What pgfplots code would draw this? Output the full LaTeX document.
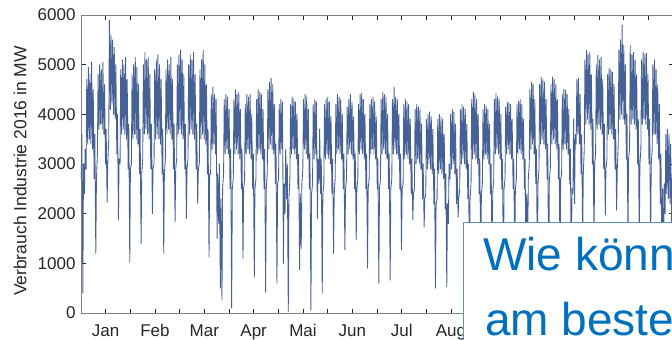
\documentclass[border=0pt]{standalone}
\usepackage{pgfplots}
\pgfplotsset{compat=1.18}
\usepackage{fontspec}
\setmainfont{Liberation Sans}
\definecolor{series}{RGB}{70,96,152}
\definecolor{axgray}{RGB}{128,128,128}
\definecolor{txt}{RGB}{38,38,38}
\definecolor{boxblue}{RGB}{91,143,208}
\definecolor{textblue}{RGB}{0,112,192}
\begin{document}
\begin{tikzpicture}[x=1pt,y=1pt]
\begin{axis}[
  at={(81pt,27pt)}, anchor=south west,
  scale only axis, width=592pt, height=298pt,
  xmin=0, xmax=366, ymin=0, ymax=6000,
  axis line style={axgray, line width=0.8pt},
  tick style={txt, line width=0.6pt},
  major tick length=4.5pt,
  tick align=inside, tick pos=both,
  xtick={15.25,30.5,...,351},
  xticklabels={Jan,{},Feb,{},Mar,{},Apr,{},Mai,{},Jun,{},Jul,{},Aug,{},{},{},{},{},{},{},{}},
  ytick={0,1000,...,6000},
  /pgf/number format/1000 sep={},
  /pgf/number format/assume math mode=true,
  ticklabel style={font=\fontsize{17}{20}\selectfont, text=txt},
  xticklabel style={yshift=-8pt},
  yticklabel style={xshift=-2pt},
  ylabel={Verbrauch Industrie 2016 in MW},
  ylabel style={font=\fontsize{17.5}{20}\selectfont, text=txt, at={(axis description cs:-0.103,0.4765)}, anchor=center},
]
\addplot[series, line width=0.85pt, line join=round] coordinates {
(0.15,2700)(0.55,3600)(1.15,400)(1.55,3000)(2.15,2400)(2.55,3300)
(3.15,2900)(3.55,4700)(4.15,3400)(4.55,4950)(5.15,3500)(5.55,4800)(6.15,3400)(6.55,5050)(7.15,3300)(7.55,4500)(8.15,2700)(8.55,3600)(9.15,1200)(9.55,2700)
(10.15,3200)(10.55,4800)(11.15,3700)(11.55,5000)(12.15,3800)(12.55,4900)(13.15,3700)(13.55,5050)(14.15,3600)(14.55,4600)(15.15,3000)(15.55,3700)(16.15,2230)(16.55,3000)
(17.15,3500)(17.55,5900)(18.15,4100)(18.55,5600)(19.15,4200)(19.55,5500)(20.15,4000)(20.55,5350)(21.15,3900)(21.55,5000)(22.15,3200)(22.55,4000)(23.15,1870)(23.55,3100)
(24.15,3000)(24.55,4900)(25.15,3600)(25.55,5100)(26.15,3700)(26.55,5000)(27.15,3600)(27.55,5150)(28.15,3500)(28.55,4700)(29.15,2900)(29.55,3800)(30.15,1030)(30.55,2900)
(31.15,3000)(31.55,4800)(32.15,3500)(32.55,5000)(33.15,3600)(33.55,5150)(34.15,3500)(34.55,4950)(35.15,3400)(35.55,4600)(36.15,2800)(36.55,3700)(37.15,1400)(37.55,2800)
(38.15,3100)(38.55,5000)(39.15,3600)(39.55,5250)(40.15,3700)(40.55,5100)(41.15,3600)(41.55,5150)(42.15,3500)(42.55,4800)(43.15,2900)(43.55,3800)(44.15,2000)(44.55,2900)
(45.15,3000)(45.55,4900)(46.15,3500)(46.55,5100)(47.15,3600)(47.55,5200)(48.15,3500)(48.55,5000)(49.15,3400)(49.55,4700)(50.15,2800)(50.55,3700)(51.15,1200)(51.55,2800)
(52.15,3100)(52.55,4900)(53.15,3600)(53.55,5100)(54.15,3700)(54.55,5000)(55.15,3600)(55.55,5150)(56.15,3500)(56.55,4700)(57.15,2900)(57.55,3800)(58.15,1830)(58.55,2900)
(59.15,3100)(59.55,5000)(60.15,3600)(60.55,5200)(61.15,3700)(61.55,5300)(62.15,3600)(62.55,5100)(63.15,3500)(63.55,4800)(64.15,2900)(64.55,3800)(65.15,1900)(65.55,2900)
(66.15,3100)(66.55,5000)(67.15,3600)(67.55,5200)(68.15,3700)(68.55,5100)(69.15,3600)(69.55,5250)(70.15,3500)(70.55,4800)(71.15,2900)(71.55,3800)(72.15,2200)(72.55,2900)
(73.15,3000)(73.55,4900)(74.15,3500)(74.55,5100)(75.15,3600)(75.55,5290)(76.15,3500)(76.55,5000)(77.15,3400)(77.55,4600)(78.15,2800)(78.55,3700)(79.15,1130)(79.55,2800)
(80.15,2800)(80.55,4400)(81.15,3300)(81.55,4550)(82.15,3400)(82.55,4400)(83.15,3200)(83.55,4300)(84.15,1500)(84.55,2800)(85.15,1800)(85.55,3000)(86.15,500)(86.55,2300)
(87.15,260)(87.55,2500)(88.15,2800)(88.55,4300)(89.15,3200)(89.55,4400)(90.15,3300)(90.55,4350)(91.15,3200)(91.55,4100)(92.15,2500)(92.55,3300)(93.15,100)(93.55,2500)
(94.15,2700)(94.55,4300)(95.15,3200)(95.55,4500)(96.15,3300)(96.55,4400)(97.15,3200)(97.55,4450)(98.15,3100)(98.55,4100)(99.15,2500)(99.55,3300)(100.15,1100)(100.55,2500)
(101.15,2700)(101.55,4200)(102.15,3200)(102.55,4400)(103.15,3300)(103.55,4350)(104.15,3200)(104.55,4400)(105.15,3100)(105.55,4000)(106.15,2500)(106.55,3200)(107.15,720)(107.55,2500)
(108.15,2700)(108.55,4300)(109.15,3200)(109.55,4500)(110.15,3300)(110.55,4450)(111.15,3200)(111.55,4400)(112.15,3100)(112.55,4100)(113.15,2500)(113.55,3300)(114.15,420)(114.55,2500)
(115.15,2800)(115.55,4500)(116.15,3300)(116.55,4650)(117.15,3400)(117.55,4730)(118.15,3300)(118.55,4600)(119.15,3200)(119.55,4200)(120.15,2600)(120.55,3400)(121.15,600)(121.55,2600)
(122.15,2700)(122.55,4200)(123.15,3200)(123.55,4300)(124.15,3300)(124.55,4250)(125.15,1000)(125.55,2600)(126.15,2000)(126.55,3300)(127.15,2300)(127.55,3000)(128.15,20)(128.55,2300)
(129.15,2700)(129.55,4200)(130.15,3200)(130.55,4350)(131.15,3300)(131.55,4300)(132.15,3200)(132.55,4250)(133.15,3100)(133.55,4000)(134.15,2500)(134.55,3200)(135.15,870)(135.55,2400)
(136.15,1300)(136.55,2600)(137.15,2900)(137.55,4300)(138.15,3300)(138.55,4400)(139.15,3200)(139.55,4350)(140.15,3100)(140.55,4100)(141.15,2500)(141.55,3200)(142.15,60)(142.55,2400)
(143.15,2600)(143.55,4200)(144.15,3100)(144.55,4300)(145.15,3200)(145.55,4250)(146.15,1900)(146.55,3100)(147.15,2600)(147.55,3700)(148.15,2400)(148.55,3100)(149.15,400)(149.55,2400)
(150.15,2600)(150.55,4200)(151.15,3100)(151.55,4300)(152.15,3200)(152.55,4350)(153.15,3100)(153.55,4250)(154.15,3000)(154.55,3950)(155.15,2400)(155.55,3100)(156.15,1200)(156.55,2400)
(157.15,2700)(157.55,4200)(158.15,3200)(158.55,4400)(159.15,3300)(159.55,4350)(160.15,3200)(160.55,4300)(161.15,3100)(161.55,4000)(162.15,2500)(162.55,3200)(163.15,1270)(163.55,2500)
(164.15,2700)(164.55,4150)(165.15,3200)(165.55,4300)(166.15,3300)(166.55,4400)(167.15,3200)(167.55,4250)(168.15,3100)(168.55,3950)(169.15,2500)(169.55,3200)(170.15,1470)(170.55,2500)
(171.15,2700)(171.55,4200)(172.15,3200)(172.55,4400)(173.15,3300)(173.55,4430)(174.15,3200)(174.55,4300)(175.15,3100)(175.55,4000)(176.15,2500)(176.55,3200)(177.15,900)(177.55,2500)
(178.15,2700)(178.55,4200)(179.15,3200)(179.55,4300)(180.15,3300)(180.55,4350)(181.15,3200)(181.55,4250)(182.15,3100)(182.55,3950)(183.15,2500)(183.55,3100)(184.15,600)(184.55,2500)
(185.15,2700)(185.55,4300)(186.15,3200)(186.55,4450)(187.15,3300)(187.55,4400)(188.15,3200)(188.55,4350)(189.15,3100)(189.55,4000)(190.15,2500)(190.55,3200)(191.15,660)(191.55,2500)
(192.15,2700)(192.55,4300)(193.15,3200)(193.55,4550)(194.15,3300)(194.55,4350)(195.15,3200)(195.55,4300)(196.15,3100)(196.55,4000)(197.15,2500)(197.55,3200)(198.15,1270)(198.55,2500)
(199.15,2600)(199.55,4200)(200.15,3100)(200.55,4300)(201.15,3200)(201.55,4250)(202.15,3100)(202.55,4200)(203.15,3000)(203.55,3900)(204.15,2400)(204.55,3100)(205.15,1870)(205.55,2400)
(206.15,2500)(206.55,4100)(207.15,3000)(207.55,4200)(208.15,3100)(208.55,4150)(209.15,3000)(209.55,4100)(210.15,2900)(210.55,3800)(211.15,2300)(211.55,3000)(212.15,1730)(212.55,2300)
(213.15,2400)(213.55,3900)(214.15,2900)(214.55,4000)(215.15,3000)(215.55,4050)(216.15,2900)(216.55,3950)(217.15,2800)(217.55,3700)(218.15,2200)(218.55,2900)(219.15,500)(219.55,2200)
(220.15,2300)(220.55,3900)(221.15,2800)(221.55,4000)(222.15,2900)(222.55,3950)(223.15,2800)(223.55,3900)(224.15,2700)(224.55,3600)(225.15,2100)(225.55,2800)(226.15,530)(226.55,2200)
(227.15,1800)(227.55,3000)(228.15,2700)(228.55,4000)(229.15,2900)(229.55,4100)(230.15,3000)(230.55,4050)(231.15,2800)(231.55,3800)(232.15,2200)(232.55,2900)(233.15,1930)(233.55,2300)
(234.15,2500)(234.55,4100)(235.15,3000)(235.55,4200)(236.15,3100)(236.55,4150)(237.15,3000)(237.55,4100)(238.15,2900)(238.55,3800)(239.15,2300)(239.55,3000)(240.15,870)(240.55,2300)
(241.15,2600)(241.55,4300)(242.15,3100)(242.55,4450)(243.15,3200)(243.55,4400)(244.15,3100)(244.55,4300)(245.15,3000)(245.55,4000)(246.15,2400)(246.55,3100)(247.15,900)(247.55,2400)
(248.15,2600)(248.55,4100)(249.15,3100)(249.55,4200)(250.15,3200)(250.55,4150)(251.15,3100)(251.55,4100)(252.15,3000)(252.55,3800)(253.15,2400)(253.55,3000)(254.15,1000)(254.55,2400)
(255.15,2700)(255.55,4300)(256.15,3200)(256.55,4420)(257.15,3300)(257.55,4350)(258.15,3200)(258.55,4300)(259.15,3100)(259.55,4000)(260.15,2500)(260.55,3100)(261.15,800)(261.55,2500)
(262.15,2700)(262.55,4150)(263.15,3200)(263.55,4250)(264.15,3300)(264.55,4230)(265.15,3200)(265.55,4200)(266.15,3100)(266.55,3900)(267.15,2500)(267.55,3100)(268.15,1100)(268.55,2500)
(269.15,2700)(269.55,4200)(270.15,3200)(270.55,4260)(271.15,3300)(271.55,4300)(272.15,3200)(272.55,4200)(273.15,3100)(273.55,3900)(274.15,2500)(274.55,3100)(275.15,700)(275.55,2400)
(276.15,1200)(276.55,2700)(277.15,3000)(277.55,4500)(278.15,3300)(278.55,4650)(279.15,3400)(279.55,4600)(280.15,3200)(280.55,4300)(281.15,2600)(281.55,3300)(282.15,900)(282.55,2600)
(283.15,2900)(283.55,4600)(284.15,3400)(284.55,4750)(285.15,3500)(285.55,4700)(286.15,3400)(286.55,4650)(287.15,3300)(287.55,4300)(288.15,2700)(288.55,3400)(289.15,600)(289.55,2700)
(290.15,2900)(290.55,4600)(291.15,3400)(291.55,4750)(292.15,3500)(292.55,4700)(293.15,3400)(293.55,4600)(294.15,3300)(294.55,4300)(295.15,2700)(295.55,3400)(296.15,1000)(296.55,2700)
(297.15,2800)(297.55,4400)(298.15,3300)(298.55,4500)(299.15,3400)(299.55,4490)(300.15,3300)(300.55,4400)(301.15,3200)(301.55,4100)(302.15,2600)(302.55,3300)(303.15,500)(303.55,2500)
(304.15,2400)(304.55,3900)(305.15,2200)(305.55,3600)(306.15,3400)(306.55,4700)(307.15,3600)(307.55,4730)(308.15,3400)(308.55,4400)(309.15,2800)(309.55,3600)(310.15,1500)(310.55,2800)
(311.15,3300)(311.55,5100)(312.15,3800)(312.55,5290)(313.15,3900)(313.55,5200)(314.15,3800)(314.55,5250)(315.15,3700)(315.55,4800)(316.15,3000)(316.55,3900)(317.15,1300)(317.55,3000)
(318.15,3200)(318.55,5000)(319.15,3700)(319.55,5190)(320.15,3800)(320.55,5100)(321.15,3700)(321.55,5150)(322.15,3600)(322.55,4700)(323.15,2900)(323.55,3800)(324.15,1970)(324.55,2900)
(325.15,3100)(325.55,4800)(326.15,3600)(326.55,4930)(327.15,3700)(327.55,4900)(328.15,3600)(328.55,4850)(329.15,3500)(329.55,4600)(330.15,2900)(330.55,3700)(331.15,2070)(331.55,2900)
(332.15,3400)(332.55,5300)(333.15,3900)(333.55,5500)(334.15,4000)(334.55,5800)(335.15,3900)(335.55,5390)(336.15,3800)(336.55,5000)(337.15,3100)(337.55,4000)(338.15,1500)(338.55,3100)
(339.15,3300)(339.55,5390)(340.15,3800)(340.55,5200)(341.15,3900)(341.55,5250)(342.15,3800)(342.55,5100)(343.15,3700)(343.55,4800)(344.15,3000)(344.55,3900)(345.15,1400)(345.55,3000)
(346.15,3300)(346.55,5100)(347.15,3800)(347.55,5250)(348.15,3900)(348.55,5200)(349.15,3800)(349.55,5230)(350.15,3700)(350.55,4800)(351.15,3000)(351.55,3900)(352.15,1300)(352.55,3000)
(353.15,3300)(353.55,5000)(354.15,3600)(354.55,5100)(355.15,3600)(355.55,4900)(356.15,3400)(356.55,4600)(357.15,3100)(357.55,4200)(358.15,2200)(358.55,3200)(359.15,900)(359.55,2500)
(360.15,1000)(360.55,2600)(361.15,2000)(361.55,3600)(362.15,2400)(362.55,3700)(363.15,2300)(363.55,3600)(364.15,2200)(364.55,3400)(365.15,1800)(365.55,2800)
};
\end{axis}
\filldraw[fill=white, draw=boxblue, line width=1pt] (463,117) rectangle (740,-40);
\node[anchor=base west, inner sep=0pt, text=textblue, font=\fontsize{46}{50}\selectfont] at (483,69) {Wie können};
\node[anchor=base west, inner sep=0pt, text=textblue, font=\fontsize{46}{50}\selectfont] at (485,5) {am besten};
\pgfresetboundingbox
\useasboundingbox (0,0) rectangle (672,340);
\end{tikzpicture}
\end{document}
